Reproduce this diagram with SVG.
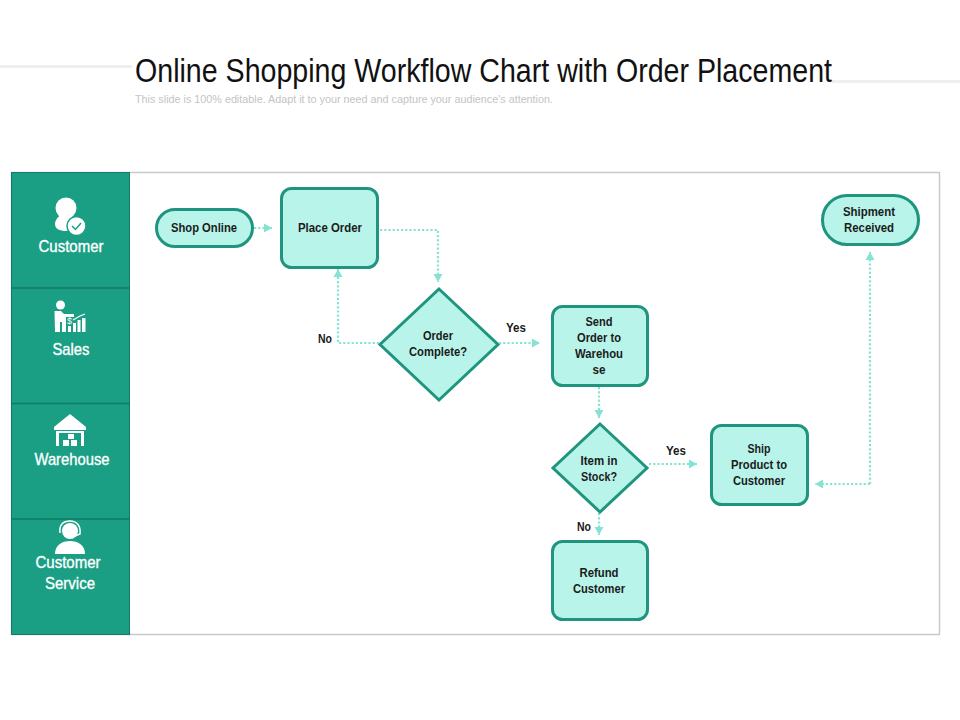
<svg xmlns="http://www.w3.org/2000/svg" width="960" height="720" viewBox="0 0 960 720">
<defs>
<marker id="ah" markerUnits="userSpaceOnUse" markerWidth="9" markerHeight="10" refX="8" refY="5" orient="auto"><path d="M0,0.500L8,5L0,9.500Z" fill="#85e3d3"/></marker>
</defs>
<style>
.n{fill:#b8f4e9;stroke:#1f9580;stroke-width:3}
.c{fill:none;stroke:#85e3d3;stroke-width:2.200;stroke-dasharray:2.200 2;marker-end:url(#ah)}
.t{font-family:"Liberation Sans",Arial,sans-serif;font-size:13px;font-weight:700;fill:#1b1b1b;text-anchor:middle}
.l{font-family:"Liberation Sans",Arial,sans-serif;font-size:17px;fill:#fff;stroke:#fff;stroke-width:.35;text-anchor:middle}
.i{fill:#fff}
</style>
<rect width="960" height="720" fill="#fff"/>
<rect x="0" y="65" width="132" height="3" fill="#efefef"/>
<rect x="832" y="80" width="128" height="3" fill="#efefef"/>
<text x="135" y="82" font-family="Liberation Sans,Arial,sans-serif" font-size="33" fill="#111" textLength="697" lengthAdjust="spacingAndGlyphs">Online Shopping Workflow Chart with Order Placement</text>
<text x="135" y="103" font-family="Liberation Sans,Arial,sans-serif" font-size="11.500" fill="#c4c4c4" textLength="418" lengthAdjust="spacingAndGlyphs">This slide is 100% editable. Adapt it to your need and capture your audience's attention.</text>

<rect id="frame" x="11.500" y="172.500" width="928" height="462" fill="#fff" stroke="#c9c9c9" stroke-width="1.500"/>
<g id="lanes">
<rect x="11.500" y="172.500" width="118" height="462" fill="#1a9f84" stroke="#127a66" stroke-width="1"/>
<path d="M11.500 288H129.500M11.500 403.500H129.500M11.500 519H129.500" stroke="#127a66" stroke-width="1.500" fill="none"/>
</g>

<g id="lane-customer">
<circle class="i" cx="66" cy="208" r="10.500"/>
<path class="i" d="M66 214C59 214 55 220 55 224C55 229 60 231 66 231L74 231L74 218C72 216 70 214 66 214Z"/>
<circle cx="76.500" cy="226" r="9.500" fill="#fff" stroke="#1a9f84" stroke-width="1.500"/>
<path d="M72 226L75.500 229.500L81 223" fill="none" stroke="#1a9f84" stroke-width="1.500"/>
<text class="l" x="71" y="252" textLength="65" lengthAdjust="spacingAndGlyphs">Customer</text>
</g>
<g id="lane-sales">
<circle class="i" cx="60.500" cy="305" r="4.500"/>
<path class="i" d="M54.500 311H61L64 314L74 314V317H66V332H62V322H60V332H55Z"/>
<path class="i" d="M68 332V326H71V332ZM73 332V323H76V332ZM77.500 332V320H80.500V332ZM82 332V318H85.500V332Z"/>
<path d="M73 320L80 316L85 314" fill="none" stroke="#fff" stroke-width="1.200"/>
<text class="i" x="69.500" y="324" font-family="Liberation Sans,Arial,sans-serif" font-size="9" text-anchor="middle">$</text>
<text class="l" x="71" y="355" textLength="37" lengthAdjust="spacingAndGlyphs">Sales</text>
</g>
<g id="lane-warehouse">
<path class="i" d="M70 414L86 427V430H54V427Z"/>
<path class="i" d="M56 431H84V446H81V433H59V446H56Z"/>
<path class="i" d="M68 434H74V439H68ZM63 440H69V446H63ZM71 440H77V446H71Z"/>
<text class="l" x="72" y="465" textLength="75" lengthAdjust="spacingAndGlyphs">Warehouse</text>
</g>
<g id="lane-service">
<path d="M60 533C59 525 63 521 70 521C77 521 81 526 80 534L75 536" fill="none" stroke="#fff" stroke-width="1.500"/>
<circle class="i" cx="70" cy="531" r="8"/>
<path class="i" d="M55 554C55 545 62 541 70 541C78 541 85 545 85 554Z"/>
<text class="l" x="68" y="568" textLength="65" lengthAdjust="spacingAndGlyphs">Customer</text>
<text class="l" x="70" y="589" textLength="50" lengthAdjust="spacingAndGlyphs">Service</text>
</g>

<g id="connectors">
<path class="c" d="M254 228H272"/>
<path class="c" d="M380 230H438V282"/>
<path class="c" d="M379 343H338V269"/>
<path class="c" d="M499 343H540"/>
<path class="c" d="M599 387V418"/>
<path class="c" d="M649 464H697"/>
<path class="c" d="M599 513V535"/>
<path class="c" d="M870 484H815"/>
<path class="c" d="M870 484V252"/>
</g>

<g id="shop-online"><rect class="n" x="156.500" y="209.500" width="96" height="37" rx="18.500"/><text class="t" x="204" y="232" textLength="66" lengthAdjust="spacingAndGlyphs">Shop Online</text></g>
<g id="place-order"><rect class="n" x="281.500" y="188.500" width="96" height="79" rx="10"/><text class="t" x="330" y="232" textLength="64" lengthAdjust="spacingAndGlyphs">Place Order</text></g>
<g id="order-complete"><path class="n" d="M439 289L498 344.500L439 400L380 344.500Z"/><text class="t" x="438" y="340" textLength="30" lengthAdjust="spacingAndGlyphs">Order</text><text class="t" x="438" y="356" textLength="58" lengthAdjust="spacingAndGlyphs">Complete?</text></g>
<g id="send-order"><rect class="n" x="552.500" y="306.500" width="95" height="79" rx="10"/><text class="t" x="599" y="326" textLength="27" lengthAdjust="spacingAndGlyphs">Send</text><text class="t" x="599" y="342" textLength="44" lengthAdjust="spacingAndGlyphs">Order to</text><text class="t" x="599" y="358" textLength="48" lengthAdjust="spacingAndGlyphs">Warehou</text><text class="t" x="599" y="374" textLength="13" lengthAdjust="spacingAndGlyphs">se</text></g>
<g id="item-stock"><path class="n" d="M600 424L647 468L600 512L553 468Z"/><text class="t" x="599" y="465" textLength="37" lengthAdjust="spacingAndGlyphs">Item in</text><text class="t" x="599" y="481" textLength="36" lengthAdjust="spacingAndGlyphs">Stock?</text></g>
<g id="ship-product"><rect class="n" x="711.500" y="425.500" width="96" height="79" rx="10"/><text class="t" x="759" y="453" textLength="23" lengthAdjust="spacingAndGlyphs">Ship</text><text class="t" x="759" y="469" textLength="56" lengthAdjust="spacingAndGlyphs">Product to</text><text class="t" x="759" y="485" textLength="52" lengthAdjust="spacingAndGlyphs">Customer</text></g>
<g id="refund"><rect class="n" x="552.500" y="541.500" width="95" height="78" rx="10"/><text class="t" x="599" y="577" textLength="39" lengthAdjust="spacingAndGlyphs">Refund</text><text class="t" x="599" y="593" textLength="52" lengthAdjust="spacingAndGlyphs">Customer</text></g>
<g id="shipment"><rect class="n" x="822.500" y="195.500" width="96" height="49" rx="24.500"/><text class="t" x="869" y="216" textLength="52" lengthAdjust="spacingAndGlyphs">Shipment</text><text class="t" x="869" y="232" textLength="50" lengthAdjust="spacingAndGlyphs">Received</text></g>
<g id="labels">
<text class="t" x="325" y="343" textLength="14" lengthAdjust="spacingAndGlyphs">No</text>
<text class="t" x="516" y="332" textLength="20" lengthAdjust="spacingAndGlyphs">Yes</text>
<text class="t" x="676" y="455" textLength="20" lengthAdjust="spacingAndGlyphs">Yes</text>
<text class="t" x="584" y="531" textLength="14" lengthAdjust="spacingAndGlyphs">No</text>
</g>
</svg>
